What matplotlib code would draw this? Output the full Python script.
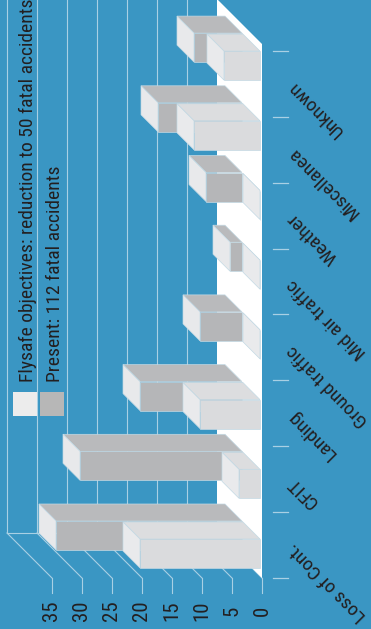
import matplotlib.pyplot as plt
from matplotlib.patches import Polygon, Rectangle

# data (bottom to top in the picture)
categories = ['Loss of Cont.', 'CFIT', 'Landing', 'Ground traffic',
              'Mid air traffic', 'Weather', 'Miscellanea', 'Unknown']
present = [31, 27, 17, 7, 2, 6, 14, 8]
objective = [20, 3.5, 10, 0, 0, 0, 11, 6]
value_ticks = [0, 5, 10, 15, 20, 25, 30, 35]
legend_labels = ['Flysafe objectives: reduction to 50 fatal accidents',
                 'Present: 112 fatal accidents']

W, H = 371, 629
BG = '#3a96c3'
GRID = '#a9d0e4'
TXT = '#231f20'

plt.rcParams['font.family'] = ['Roboto Condensed', 'Barlow Semi Condensed', 'DejaVu Sans']

# layout of the oblique projection, in pixels
PXV = 6.0     # px per accident
PXC = 69.7    # px per category step
X0 = 262      # value 0 on the front plane
Y0 = 555.5    # centre of first category on the front plane
WALL = 45     # depth of back wall


def vx(px):
    return (X0 - px) / PXV


def cy(py):
    return (Y0 - py) / PXC


def proj(v, c, d):
    # value, category position, depth (px) -> data coords
    return (v + d / PXV, c + d / PXC)


fig = plt.figure(figsize=(W / 100, H / 100), dpi=100)
fig.patch.set_facecolor(BG)
ax = fig.add_axes([0, 0, 1, 1])
ax.set_facecolor(BG)
ax.set_xlim(vx(0), vx(W))
ax.set_ylim(cy(H), cy(0))
ax.axis('off')

c_bot, c_top = cy(578), cy(44)
vmax = value_ticks[-1]

# back wall grid
for v in value_ticks[1:]:
    p0, p1 = proj(v, c_bot, WALL), proj(v, c_top + 0.2, WALL)
    ax.plot([p0[0], p1[0]], [p0[1], p1[1]], color=GRID, lw=0.8, zorder=1)
p0, p1 = proj(0, c_bot, WALL), proj(vmax, c_bot, WALL)
ax.plot([p0[0], p1[0]], [p0[1], p1[1]], color=GRID, lw=0.8, zorder=1)

# floor (value 0 plane)
floor = [proj(0, c_bot, 0), proj(0, c_top, 0), proj(0, c_top, WALL), proj(0, c_bot, WALL)]
ax.add_patch(Polygon(floor, closed=True, facecolor='white', edgecolor='none', zorder=2))

# side wall grid + value ticks
for v in value_ticks:
    p0, p1 = proj(v, c_bot, 0), proj(v, c_bot, WALL)
    ax.plot([p0[0], p1[0]], [p0[1], p1[1]], color=GRID, lw=0.8, zorder=1)
    ax.plot([v, v], [c_bot, cy(593)], color=GRID, lw=0.8, zorder=1)
    ax.text(v, cy(611), str(v), rotation=90, ha='center', va='center',
            fontsize=15, color=TXT)

# category ticks and labels
step = 65.9
for k in range(len(categories) + 1):
    py = 578 - step * k
    ax.plot([vx(273), vx(288)], [cy(py), cy(py)], color=GRID, lw=0.9)
for k, name in enumerate(categories):
    py = 578 - step * (k + 0.5)
    ax.text(vx(290), cy(py), name, rotation=135, rotation_mode='anchor',
            ha='right', va='center', fontsize=14, color=TXT)


def box(v, c, d0, d1, front, top, side):
    h = 14.5 / PXC
    faces = [
        ([proj(0, c + h, d0), proj(v, c + h, d0), proj(v, c + h, d1), proj(0, c + h, d1)], top),
        ([proj(v, c - h, d0), proj(v, c + h, d0), proj(v, c + h, d1), proj(v, c - h, d1)], side),
        ([proj(0, c - h, d0), proj(v, c - h, d0), proj(v, c + h, d0), proj(0, c + h, d0)], front),
    ]
    for pts, col in faces:
        ax.add_patch(Polygon(pts, closed=True, facecolor=col, edgecolor='#c3d9e4',
                             lw=0.5, zorder=3))


for i in range(len(categories)):
    box(present[i], i, 20, 37, '#b5b6b8', '#b9babc', '#e8e9eb')
for i in range(len(categories)):
    box(objective[i], i, 2, 19, '#dadbdd', '#dcdddf', '#e9eaec')

# legend
for j, col in enumerate(['#ececec', '#b7b7b7']):
    fig.add_artist(Rectangle(((13 + 27 * j) / W, 1 - 416 / H), 24 / W, 24 / H,
                             transform=fig.transFigure, facecolor=col, edgecolor='none'))
    fig.text((33 + 27 * j) / W, 1 - 382 / H, legend_labels[j], rotation=90,
             rotation_mode='anchor', ha='left', va='baseline', fontsize=14, color=TXT)

fig.savefig('out.png', dpi=100, facecolor=BG)
